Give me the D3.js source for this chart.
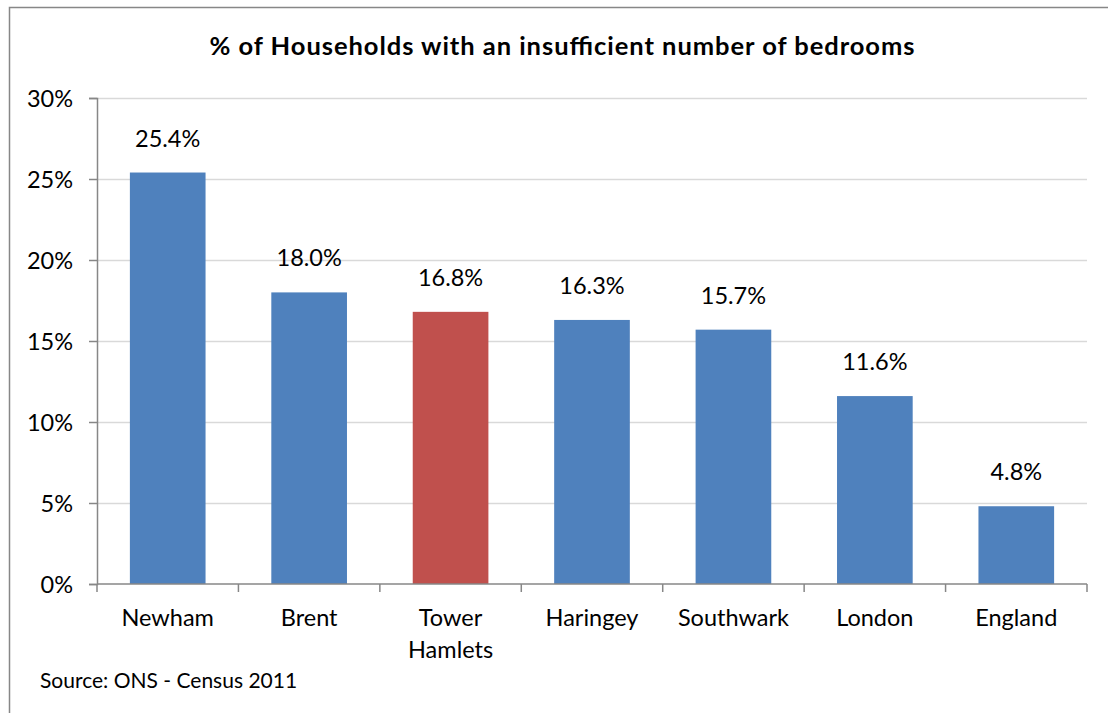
<!DOCTYPE html>
<html>
<head>
<meta charset="utf-8">
<script src="https://cdn.jsdelivr.net/npm/d3@7"></script>
<style>
  html, body { margin: 0; padding: 0; background: #fff; }
  svg { display: block; }
  text { font-family: Lato, "Open Sans", sans-serif; fill: #000; }
</style>
</head>
<body>
<svg id="chart" width="1108" height="713"></svg>
<script>
// Households with too few bedrooms, Census 2011
const areas = ["Newham", "Brent", "Tower Hamlets", "Haringey", "Southwark", "London", "England"];
const shares = [25.4, 18.0, 16.8, 16.3, 15.7, 11.6, 4.8];
const highlighted = ["Tower Hamlets"];
const yTicks = [0, 5, 10, 15, 20, 25, 30];

const svg = d3.select("#chart");
const W = 1108, H = 713;
const plot = { left: 97, right: 1087, top: 98, bottom: 584 };
const labelSize = 23.5;

// outer chart frame
svg.append("rect")
  .attr("x", 9.5).attr("y", 7.5)
  .attr("width", W + 20).attr("height", H + 20)
  .attr("fill", "#fff").attr("stroke", "#878787").attr("stroke-width", 1.5);

const x = d3.scaleBand().domain(areas)
  .range([plot.left, plot.right]).paddingInner(0.465).paddingOuter(0.2325);
const y = d3.scaleLinear().domain([0, 30]).range([plot.bottom, plot.top]);

// title
svg.append("text")
  .attr("x", 562).attr("y", 55)
  .attr("text-anchor", "middle")
  .attr("font-size", 25.5).attr("font-weight", "bold")
  .attr("textLength", 705).attr("lengthAdjust", "spacing")
  .text("% of Households with an insufficient number of bedrooms");

// gridlines
svg.append("g").selectAll("line")
  .data(yTicks.filter(d => d > 0)).join("line")
  .attr("x1", plot.left).attr("x2", plot.right)
  .attr("y1", d => Math.round(y(d)) + 0.5).attr("y2", d => Math.round(y(d)) + 0.5)
  .attr("stroke", "#d9d9d9").attr("stroke-width", 1.5);

// bars
svg.append("g").selectAll("rect")
  .data(areas).join("rect")
  .attr("x", d => x(d))
  .attr("width", x.bandwidth())
  .attr("y", (d, i) => y(shares[i]))
  .attr("height", (d, i) => y(0) - y(shares[i]))
  .attr("fill", d => highlighted.includes(d) ? "#c0504d" : "#4f81bd");

// value labels
svg.append("g").selectAll("text")
  .data(areas).join("text")
  .attr("x", d => x(d) + x.bandwidth() / 2)
  .attr("y", (d, i) => y(shares[i]) - 26)
  .attr("text-anchor", "middle")
  .attr("font-size", labelSize)
  .text((d, i) => shares[i].toFixed(1) + "%");

// y axis
const yAxis = d3.axisLeft(y).tickValues(yTicks).tickSize(8).tickPadding(16)
  .tickFormat(d => d + "%");
const gy = svg.append("g").attr("transform", `translate(${plot.left},0)`).call(yAxis);
gy.select(".domain").attr("stroke", "#878787").attr("stroke-width", 1.5);
gy.selectAll(".tick line").attr("stroke", "#878787").attr("stroke-width", 1.5);
gy.selectAll(".tick text").attr("font-size", labelSize).attr("font-family", "Lato, sans-serif")
  .attr("fill", "#000").attr("dy", "0.35em");

// x axis: tick marks sit on band boundaries
const gx = svg.append("g");
gx.append("line")
  .attr("x1", plot.left).attr("x2", plot.right)
  .attr("y1", plot.bottom).attr("y2", plot.bottom)
  .attr("stroke", "#878787").attr("stroke-width", 1.5);
const bounds = d3.range(areas.length + 1).map(i => plot.left + i * (plot.right - plot.left) / areas.length);
gx.selectAll("line.tick").data(bounds).join("line").attr("class", "tick")
  .attr("x1", d => d).attr("x2", d => d)
  .attr("y1", plot.bottom).attr("y2", plot.bottom + 8)
  .attr("stroke", "#878787").attr("stroke-width", 1.5);

// category labels, wrapped onto two lines where needed
const labels = gx.selectAll("text").data(areas).join("text")
  .attr("x", d => x(d) + x.bandwidth() / 2)
  .attr("y", 626)
  .attr("text-anchor", "middle")
  .attr("font-size", labelSize);
labels.each(function(d) {
  const words = d === "Tower Hamlets" ? ["Tower", "Hamlets"] : [d];
  d3.select(this).selectAll("tspan").data(words).join("tspan")
    .attr("x", x(d) + x.bandwidth() / 2)
    .attr("dy", (w, i) => i === 0 ? 0 : 32)
    .text(w => w);
});

// source note
svg.append("text")
  .attr("x", 40).attr("y", 688)
  .attr("font-size", 21)
  .text("Source: ONS - Census 2011");
</script>
</body>
</html>
